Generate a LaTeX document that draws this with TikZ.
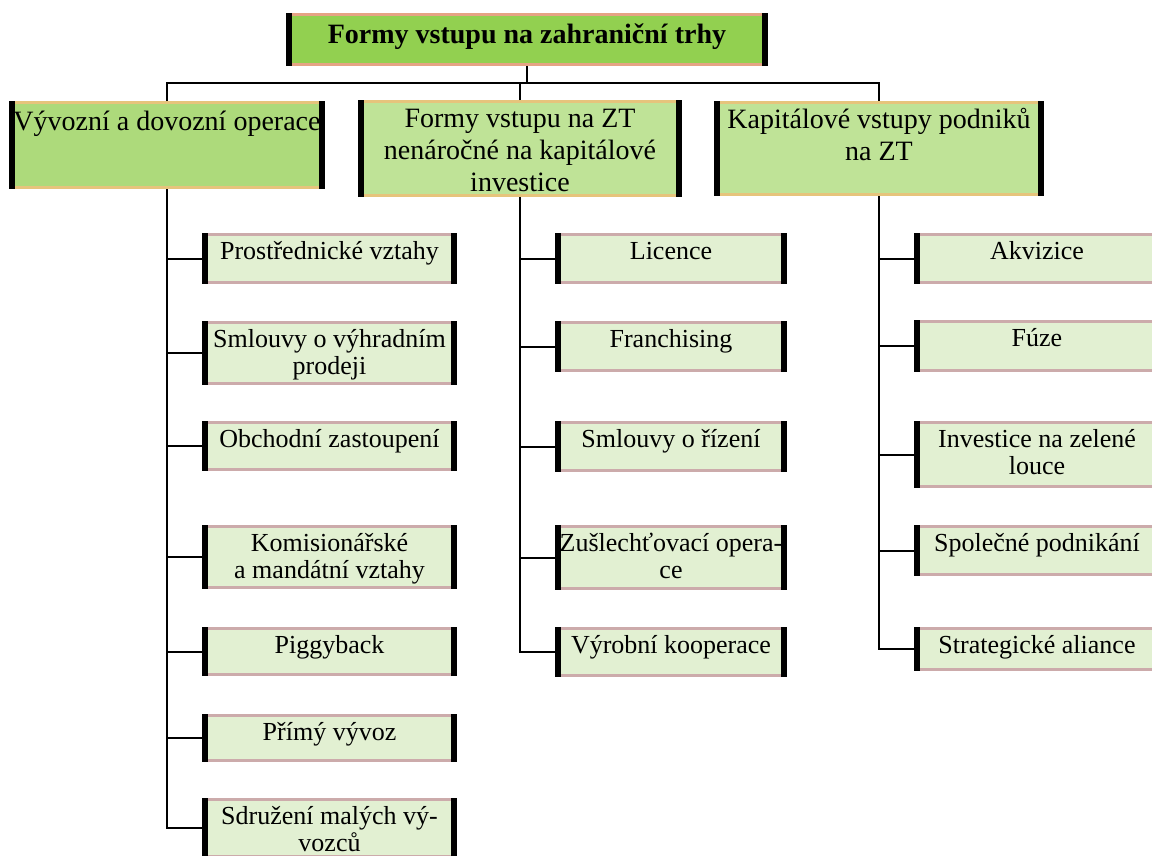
\documentclass[tikz,border=0pt]{standalone}
\usepackage{fontspec}
\setmainfont{Liberation Serif}
\definecolor{titlegreen}{HTML}{92D050}
\definecolor{titleedge}{HTML}{E5A384}
\definecolor{lvlA}{HTML}{ADDA7B}
\definecolor{lvlB}{HTML}{BFE397}
\definecolor{lvledge}{HTML}{E6C47C}
\definecolor{childfill}{HTML}{E2F0D2}
\definecolor{childedge}{HTML}{CCABAB}
\newcommand\bxt[4]{\parbox[c][#2pt][t]{#1pt}{\centering\vspace*{#3pt}\strut #4\par}}
\tikzset{
  box/.style={inner sep=0pt, outer sep=0pt, anchor=north west,
    path picture={
      \fill[#1] (path picture bounding box.north west) rectangle ([yshift=-3pt]path picture bounding box.north east);
      \fill[#1] (path picture bounding box.south west) rectangle ([yshift=3pt]path picture bounding box.south east);
      \fill[black] (path picture bounding box.north west) rectangle ([xshift=6pt]path picture bounding box.south west);
      \fill[black] (path picture bounding box.north east) rectangle ([xshift=-6pt]path picture bounding box.south east);
    }},
  titlebox/.style={box=titleedge, fill=titlegreen, font=\bfseries\fontsize{28}{33}\selectfont},
  lvlbox/.style={box=lvledge, fill=#1, font=\fontsize{28}{32}\selectfont},
  childbox/.style={box=childedge, fill=childfill, font=\fontsize{26}{27.5}\selectfont},
  conn/.style={line width=2pt, black},
  branch/.style={line width=2pt, black}
}
\begin{document}
\begin{tikzpicture}[x=1pt,y=-1pt]
\clip (0,0) rectangle (1152,855);
\fill[white] (0,0) rectangle (1152,855);

% title
\node[titlebox] (title) at (286,13) {\bxt{482}{53}{7.5}{Formy vstupu na zahraniční trhy}};

% level 1
\node[lvlbox=lvlA] (L1a) at (9,101) {\bxt{316}{88}{6.6}{Vývozní a dovozní operace}};
\node[lvlbox=lvlB] (L1b) at (358,100) {\bxt{324}{97}{4.6}{Formy vstupu na ZT\\nenáročné na kapitálové\\investice}};
\node[lvlbox=lvlB] (L1c) at (714,101) {\bxt{330}{95}{4.6}{Kapitálové vstupy podniků\\na ZT}};

% column A
\node[childbox] (A1) at (202,233) {\bxt{255}{51}{6.75}{Prostřednické vztahy}};
\node[childbox] (A2) at (202,321) {\bxt{255}{64}{6.75}{Smlouvy o výhradním\\prodeji}};
\node[childbox] (A3) at (202,421) {\bxt{255}{50}{6.75}{Obchodní zastoupení}};
\node[childbox] (A4) at (202,525) {\bxt{255}{64}{6.75}{Komisionářské\\a mandátní vztahy}};
\node[childbox] (A5) at (202,627) {\bxt{255}{49}{6.75}{Piggyback}};
\node[childbox] (A6) at (202,714) {\bxt{255}{48}{6.75}{Přímý vývoz}};
\node[childbox] (A7) at (202,798) {\bxt{255}{60}{6.75}{Sdružení malých vý-\\vozců}};

% column B
\node[childbox] (B1) at (555,233) {\bxt{232}{51}{6.75}{Licence}};
\node[childbox] (B2) at (555,321) {\bxt{232}{51}{6.75}{Franchising}};
\node[childbox] (B3) at (555,421) {\bxt{232}{51}{6.75}{Smlouvy o řízení}};
\node[childbox] (B4) at (555,525) {\bxt{232}{65}{6.75}{Zušlechťovací opera-\\ce}};
\node[childbox] (B5) at (555,627) {\bxt{232}{50}{6.75}{Výrobní kooperace}};

% column C
\node[childbox] (C1) at (914,233) {\bxt{246}{51}{6.75}{Akvizice}};
\node[childbox] (C2) at (914,320) {\bxt{246}{52}{6.75}{Fúze}};
\node[childbox] (C3) at (914,421) {\bxt{246}{67}{6.75}{Investice na zelené\\louce}};
\node[childbox] (C4) at (914,525) {\bxt{246}{51}{6.75}{Společné podnikání}};
\node[childbox] (C5) at (914,627) {\bxt{246}{44}{6.75}{Strategické aliance}};

% top connectors
\coordinate (bus) at (0,83);
\draw[conn] (title.south) -- (title.south |- bus);
\draw[conn] (L1a.north) -- (L1a.north |- bus) -| (L1c.north);
\draw[conn] (L1b.north) -- (L1b.north |- bus);

% column trunks
\draw[conn] (L1a.south) |- (A7.west);
\foreach \n in {A1,A2,A3,A4,A5,A6}
  \draw[branch] (\n.west) -- (\n.west -| L1a.south);
\draw[conn] (L1b.south) |- (B5.west);
\foreach \n in {B1,B2,B3,B4}
  \draw[branch] (\n.west) -- (\n.west -| L1b.south);
\draw[conn] (L1c.south) |- (C5.west);
\foreach \n in {C1,C2,C3,C4}
  \draw[branch] (\n.west) -- (\n.west -| L1c.south);
\end{tikzpicture}
\end{document}
